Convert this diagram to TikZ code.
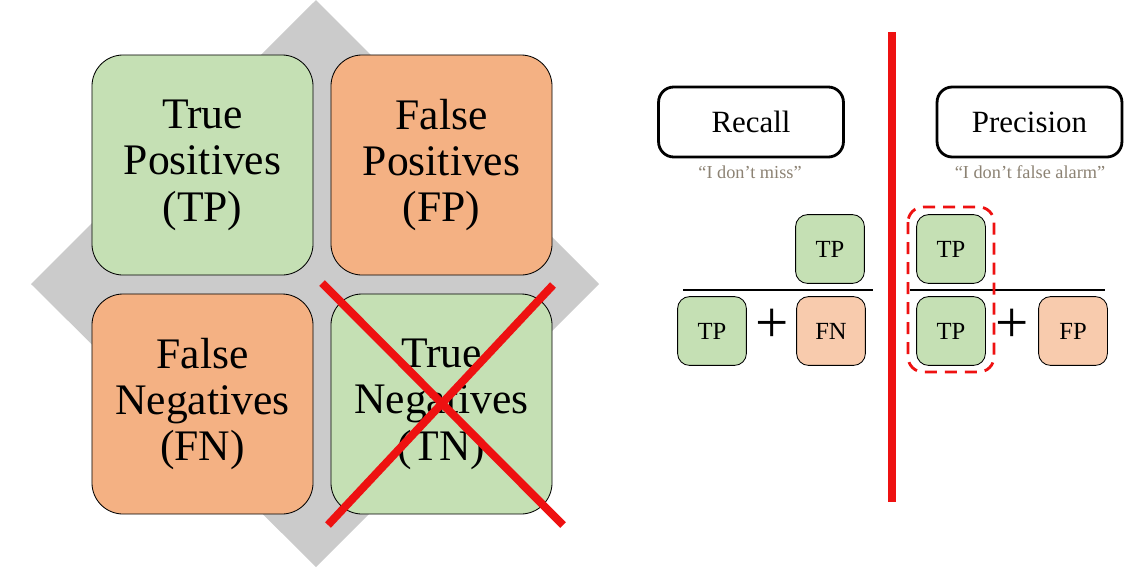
\documentclass[tikz,border=0pt]{standalone}
\usepackage{fontspec}
\setmainfont{Liberation Serif}
\definecolor{cellgreen}{HTML}{C5E0B4}
\definecolor{cellorange}{HTML}{F4B183}
\definecolor{termorange}{HTML}{F8CBAD}
\definecolor{diamondgray}{HTML}{CBCBCB}
\definecolor{crossred}{HTML}{EE1111}
\definecolor{quotegray}{HTML}{8C8273}
\begin{document}
\begin{tikzpicture}[x=0.025cm, y=-0.025cm,
    bigcell/.style={draw, line width=0.6pt, rounded corners=0.78cm, minimum width=5.525cm, minimum height=5.5cm, inner sep=0pt, align=center, font=\fontsize{31}{33}\selectfont},
    metricbox/.style={draw, line width=2pt, rounded corners=0.38cm, minimum width=4.62cm, minimum height=1.75cm, inner sep=0pt, font=\fontsize{22}{24}\selectfont},
    quote/.style={text=quotegray, inner sep=0pt, font=\fontsize{13}{15}\selectfont},
    term/.style={draw, line width=0.6pt, rounded corners=0.3cm, minimum width=1.72cm, minimum height=1.72cm, inner sep=0pt, font=\fontsize{17.5}{19}\selectfont},
    plussign/.style={inner sep=0pt, font=\fontsize{42}{44}\selectfont},
    fracline/.style={line width=2pt},
    redline/.style={crossred, line width=5.7pt}]
    \useasboundingbox (0, 0) rectangle (1124, 568);

    % confusion matrix
    \fill[diamondgray] (316, 0) -- (599, 284) -- (316, 567) -- (31, 284) -- cycle;
    \node (tp) [bigcell, fill=cellgreen] at (202.5, 165) {True\\Positives\\(TP)};
    \node (fp) [bigcell, fill=cellorange] at (441.5, 165) {False\\Positives\\(FP)};
    \node (fn) [bigcell, fill=cellorange] at (202.5, 404) {False\\Negatives\\(FN)};
    \node (tn) [bigcell, fill=cellgreen] at (441.5, 404) {True\\Negatives\\(TN)};
    \draw[redline] (322, 283) -- (563, 525);
    \draw[redline] (553, 285) -- (328, 525);

    % divider
    \coordinate (div_top) at (892, 32);
    \coordinate (div_bot) at (892, 502);
    \draw[crossred, line width=5.7pt] (div_top) -- (div_bot);

    % recall
    \node (recall) [metricbox] at (751, 122) {Recall};
    \node (recall_q) [quote] at (750, 172) {“I don’t miss”};
    \node (r_num) [term, fill=cellgreen] at (830, 249) {TP};
    \coordinate (r_line_l) at (683, 290);
    \coordinate (r_line_r) at (873, 290);
    \draw[fracline] (r_line_l) -- (r_line_r);
    \node (r_tp) [term, fill=cellgreen] at (712, 331) {TP};
    \node (r_plus) [plussign] at (772, 326) {+};
    \node (r_fn) [term, fill=termorange] at (831, 331) {FN};

    % precision
    \node (precision) [metricbox] at (1029.5, 122) {Precision};
    \node (precision_q) [quote] at (1030, 172) {“I don’t false alarm”};
    \node (p_num) [term, fill=cellgreen] at (951, 249) {TP};
    \coordinate (p_line_l) at (910, 290);
    \coordinate (p_line_r) at (1105, 290);
    \draw[fracline] (p_line_l) -- (p_line_r);
    \node (p_tp) [term, fill=cellgreen] at (951, 331) {TP};
    \node (p_plus) [plussign] at (1012, 326) {+};
    \node (p_fp) [term, fill=termorange] at (1073, 331) {FP};
    \draw[crossred, line width=2pt, dash pattern=on 0.3cm off 0.2cm, rounded corners=0.38cm] (908, 207) rectangle (994, 372);
\end{tikzpicture}
\end{document}
